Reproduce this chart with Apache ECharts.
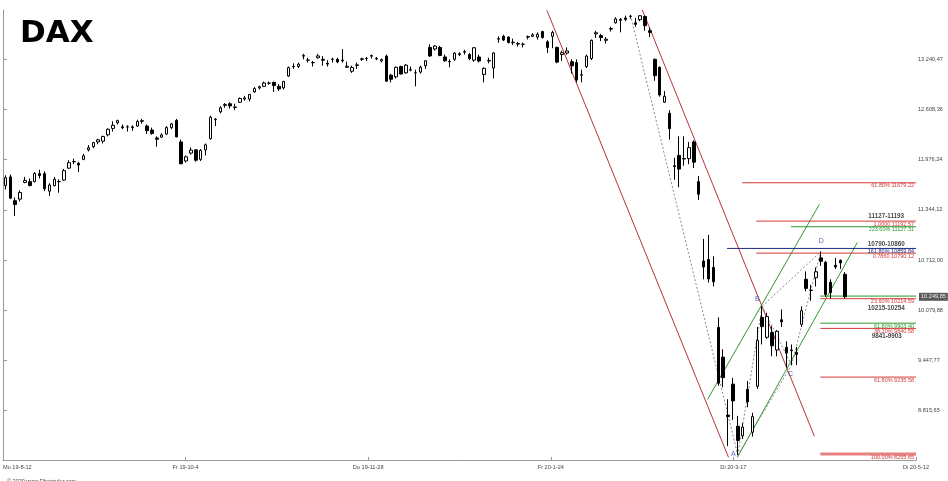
<!DOCTYPE html>
<html><head><meta charset="utf-8">
<script src="https://cdn.jsdelivr.net/npm/echarts@6/dist/echarts.min.js"></script>
<style>html,body{margin:0;padding:0;background:#fff}#c{width:948px;height:481px}</style>
</head><body><div id="c"></div>
<script>
// ---- data ----
const dates = [
'2019-08-13','2019-08-14','2019-08-15','2019-08-16','2019-08-19','2019-08-20','2019-08-21','2019-08-22','2019-08-23','2019-08-26','2019-08-27','2019-08-28','2019-08-29','2019-08-30',
'2019-09-02','2019-09-03','2019-09-04','2019-09-05','2019-09-06','2019-09-09','2019-09-10','2019-09-11','2019-09-12','2019-09-13','2019-09-16','2019-09-17','2019-09-18','2019-09-19','2019-09-20','2019-09-23','2019-09-24','2019-09-25','2019-09-26','2019-09-27','2019-09-30',
'2019-10-01','2019-10-02','2019-10-04','2019-10-07','2019-10-08','2019-10-09','2019-10-10','2019-10-11','2019-10-14','2019-10-15','2019-10-16','2019-10-17','2019-10-18','2019-10-21','2019-10-22','2019-10-23','2019-10-24','2019-10-25','2019-10-28','2019-10-29','2019-10-30','2019-10-31',
'2019-11-01','2019-11-04','2019-11-05','2019-11-06','2019-11-07','2019-11-08','2019-11-11','2019-11-12','2019-11-13','2019-11-14','2019-11-15','2019-11-18','2019-11-19','2019-11-20','2019-11-21','2019-11-22','2019-11-25','2019-11-26','2019-11-27','2019-11-28','2019-11-29',
'2019-12-02','2019-12-03','2019-12-04','2019-12-05','2019-12-06','2019-12-09','2019-12-10','2019-12-11','2019-12-12','2019-12-13','2019-12-16','2019-12-17','2019-12-18','2019-12-19','2019-12-20','2019-12-23','2019-12-27','2019-12-30',
'2020-01-02','2020-01-03','2020-01-06','2020-01-07','2020-01-08','2020-01-09','2020-01-10','2020-01-13','2020-01-14','2020-01-15','2020-01-16','2020-01-17','2020-01-20','2020-01-21','2020-01-22','2020-01-23','2020-01-24','2020-01-27','2020-01-28','2020-01-29','2020-01-30','2020-01-31',
'2020-02-03','2020-02-04','2020-02-05','2020-02-06','2020-02-07','2020-02-10','2020-02-11','2020-02-12','2020-02-13','2020-02-14','2020-02-17','2020-02-18','2020-02-19','2020-02-20','2020-02-21','2020-02-24','2020-02-25','2020-02-26','2020-02-27','2020-02-28',
'2020-03-02','2020-03-03','2020-03-04','2020-03-05','2020-03-06','2020-03-09','2020-03-10','2020-03-11','2020-03-12','2020-03-13','2020-03-16','2020-03-17','2020-03-18','2020-03-19','2020-03-20','2020-03-23','2020-03-24','2020-03-25','2020-03-26','2020-03-27','2020-03-30','2020-03-31',
'2020-04-01','2020-04-02','2020-04-03','2020-04-06','2020-04-07','2020-04-08','2020-04-09','2020-04-14','2020-04-15','2020-04-16','2020-04-17','2020-04-20','2020-04-21'];
const futureDates = ['2020-04-22','2020-04-23','2020-04-24','2020-04-27','2020-04-28','2020-04-29','2020-04-30','2020-05-01','2020-05-04','2020-05-05','2020-05-06','2020-05-07','2020-05-08','2020-05-11'];

const open = [11650,11760,11460,11480,11690,11700,11700,11800,11800,11580,11650,11700,11720,11870,
11950,11930,11980,12100,12140,12200,12210,12290,12370,12440,12390,12390,12380,12400,12460,12400,12350,12250,12260,12300,12380,
12470,12200,11960,12060,12100,11980,12100,12240,12480,12580,12660,12680,12640,12700,12740,12740,12830,12880,12900,12940,12950,12900,
12880,13030,13150,13150,13280,13230,13200,13260,13240,13190,13240,13240,13230,13140,13090,13170,13240,13250,13280,13250,13220,
13280,13040,13020,13150,13070,13110,13070,13080,13160,13390,13370,13390,13270,13210,13240,13310,13330,13300,
13230,13270,13050,13220,13130,13500,13530,13520,13450,13440,13430,13520,13530,13520,13590,13460,13530,13390,13300,13320,13210,13200,
13040,13150,13250,13560,13540,13480,13620,13700,13730,13760,13780,13700,13740,13780,13600,13240,13140,12700,12560,11900,
12030,11990,11990,12200,11700,10700,10720,10620,9865,9490,8760,9150,8620,8500,9085,8545,9123,9990,9740,9800,9580,9960,
9614,9580,9550,9903,10470,10330,10490,10740,10684,10432,10646,10709,10533];
const high = [11780,11790,11500,11590,11760,11740,11820,11850,11830,11680,11760,11730,11860,11970,
11990,11950,12050,12160,12200,12240,12280,12370,12460,12480,12420,12410,12410,12480,12490,12420,12380,12270,12310,12400,12440,
12490,12230,12030,12130,12110,12110,12180,12530,12500,12650,12690,12700,12680,12760,12780,12800,12890,12910,12960,12960,12960,12930,
12970,13150,13190,13200,13310,13260,13220,13310,13280,13230,13260,13260,13370,13210,13160,13200,13260,13270,13300,13270,13250,
13300,13060,13150,13160,13180,13150,13110,13160,13230,13430,13420,13410,13300,13240,13330,13330,13360,13320,
13390,13300,13140,13260,13330,13530,13550,13530,13500,13460,13450,13540,13570,13580,13600,13480,13600,13400,13350,13390,13240,13240,
13110,13300,13490,13600,13560,13520,13650,13770,13760,13790,13800,13760,13795,13790,13640,13250,13150,12840,12600,12000,
12270,12270,12200,12220,11770,10980,11030,10760,9991,9588,8960,9230,8750,8660,9190,8790,9870,10130,10050,9880,9830,10090,
9690,9650,9620,10130,10570,10400,10620,10820,10700,10470,10740,10720,10560];
const low = [11600,11480,11266,11450,11680,11640,11690,11740,11580,11520,11640,11560,11710,11860,
11920,11820,11970,12080,12120,12170,12180,12270,12330,12420,12360,12330,12340,12390,12430,12300,12290,12140,12250,12290,12360,
12260,11920,11940,12040,11950,11960,12030,12230,12400,12560,12630,12620,12600,12690,12720,12710,12820,12860,12890,12920,12830,12840,
12860,13020,13120,13130,13240,13200,13150,13250,13160,13150,13200,13190,13200,13130,13070,13120,13220,13220,13250,13230,13200,
12960,12950,13000,13050,13060,13090,12900,13060,13120,13270,13350,13280,13210,13140,13220,13280,13300,13230,
13210,13200,12950,13190,13000,13450,13470,13440,13420,13400,13390,13490,13520,13490,13500,13320,13380,13190,13220,13300,13060,12950,
12950,13130,13230,13510,13470,13440,13590,13690,13580,13720,13750,13650,13720,13600,13520,12970,12770,12690,12230,11724,
11630,11900,11920,11870,11470,10470,10430,10380,9130,9110,8370,8700,8256,8460,8860,8490,9090,9650,9720,9500,9500,9870,
9360,9390,9390,9870,10320,10200,10380,10640,10250,10230,10600,10600,10230];
const close = [11750,11492,11412,11563,11715,11651,11802,11777,11612,11658,11731,11701,11838,11939,
11953,11910,12025,12126,12192,12227,12268,12360,12410,12469,12380,12389,12390,12457,12468,12342,12307,12234,12288,12381,12428,
12263,11925,12013,12097,11970,12094,12164,12511,12486,12630,12670,12654,12634,12748,12754,12798,12872,12895,12942,12940,12910,12867,
12961,13136,13148,13179,13289,13228,13198,13283,13230,13180,13242,13208,13221,13153,13138,13164,13247,13252,13288,13245,13236,
12965,12989,13140,13055,13167,13105,13071,13142,13222,13283,13408,13288,13222,13212,13319,13300,13337,13249,
13386,13219,13127,13227,13321,13495,13483,13452,13456,13432,13430,13526,13549,13556,13515,13389,13577,13205,13324,13346,13158,12982,
13046,13282,13479,13575,13514,13494,13628,13749,13745,13744,13783,13681,13789,13665,13579,13035,12791,12775,12367,11890,
11858,11986,12128,11945,11542,10625,10475,10439,9161,9232,8742,8939,8442,8610,8929,8741,9701,9874,10000,9633,9816,9936,
9544,9571,9525,10075,10356,10333,10565,10697,10280,10302,10626,10676,10249.85];

const xTickLabels = ['Mo 19-8-12','Fr 19-10-4','Do 19-11-28','Fr 20-1-24','Di 20-3-17','Di 20-5-12'];
const yTickValues = [8815.65, 9447.77, 10079.88, 10712.00, 11344.12, 11976.24, 12608.36, 13240.47];
const lastPrice = 10249.85;

// drawings in (bar position, price); bar i sits at position i+0.5
const redChannelLeft  = [[111.4, 13856], [148.6, 8228]];
const redChannelRight = [[130.9, 13869], [166.2, 8492]];
const greenChannelLow = [[150.4, 8228], [175.0, 10935]];
const greenChannelUp  = [[144.3, 8958], [167.2, 11413]];
const patX = [128.5, 13800], patA = [150.5, 8256], patB = [155.5, 10130], patC = [161.5, 9390], patD = [167.5, 10820];
const patternLegs = [[patX, patA], [patA, patB], [patB, patC], [patC, patD], [patA, patC], [patB, patD]];
const patternNames = ['A', 'B', 'C', 'D'];
const patternLabelPos = [[149.6, 8266], [154.5, 10218], [161.3, 9275], [167.6, 10946]];

const fibStart = [151.4, 154.3, 161.4, 148.3, 154.3, 167.4, 167.4, 167.4, 167.4, 167.4, 167.4];
const fibPrice = [11686, 11203, 11132, 10859, 10800, 10259, 10226, 9918, 9852, 9239, 8269];
const fibColor = ['red', 'red', 'green', 'navy', 'red', 'green', 'red', 'green', 'red', 'red', 'pink'];
const fibText  = ['61.80% 11679.22', '1.0000 11192.57', '223.60% 11127.31', '161.80% 10859.84', '0.7860 10790.12',
                  '', '23.60% 10214.59', '61.80% 9903.40', '38.20% 9840.58', '61.80% 9235.58', '100.00% 8255.65'];
const zoneText  = ['11127-11193', '10790-10860', '10215-10254', '9841-9903'];
const zonePos   = [[180.9, 11262], [180.9, 10906], [180.9, 10104], [181.0, 9747]];

// ---- chart ----
const N = dates.length + futureDates.length; // 187 slots
const yMin = 8194.9, yMax = 13861.3;
const colors = {red: '#d43a3a', green: '#2e9a2e', navy: '#1c2a80', pink: '#e88080', chan: '#b8323a', grid: '#9a9a9a'};
const textColors = {red: '#d43a3a', green: '#2e9a2e', navy: '#1c2a80', pink: '#c83030'};
const fmtDE = v => { const p = Number(v).toFixed(2).split('.'); return p[0].replace(/\B(?=(\d{3})+(?!\d))/g, '.') + ',' + p[1]; };
const font = 'Liberation Sans, Arial, sans-serif';

const chart = echarts.init(document.getElementById('c'), null, {renderer: 'canvas'});
const lineSeries = (data, color, extra) => Object.assign({
  type: 'line', xAxisIndex: 1, yAxisIndex: 0, data: data, symbol: 'none', silent: true, clip: true,
  lineStyle: {color: color, width: 1}, z: 3, animation: false
}, extra || {});

const fibSeries = fibPrice.map((p, i) => {
  const key = fibColor[i];
  const isPink = key === 'pink';
  return {
    type: 'line', xAxisIndex: 1, yAxisIndex: 0, silent: true, clip: false, animation: false, z: 4,
    symbol: 'circle', symbolSize: 0.01, showSymbol: true,
    itemStyle: {color: 'rgba(0,0,0,0)', borderWidth: 0},
    lineStyle: {color: colors[key], width: isPink ? 3 : 1, opacity: 1},
    data: [
      {value: [fibStart[i], p], label: {show: false}},
      {value: [N, p], label: {show: fibText[i] !== '', formatter: fibText[i], position: 'left', distance: 2, offset: [0, 3],
        color: textColors[key], fontSize: 5.5, fontFamily: font}}
    ]
  };
});

const option = {
  animation: false,
  backgroundColor: '#ffffff',
  title: [
    {text: 'DAX', left: 15, top: 13, textStyle: {fontFamily: 'DejaVu Sans', fontWeight: 'bold', fontSize: 31, color: '#000'}},
    {text: '© 2020 www.Fibotrader.com', left: 2, top: 473, textStyle: {fontFamily: font, fontWeight: 'normal', fontSize: 5.5, color: '#444'}}
  ],
  grid: {left: 1, right: 32, top: 10, bottom: 21, containLabel: false},
  xAxis: [
    {type: 'category', data: dates.concat(futureDates), boundaryGap: true, show: false},
    {type: 'value', min: 0, max: N, interval: N / 5, position: 'bottom',
     axisLine: {show: true, lineStyle: {color: colors.grid, width: 1}},
     axisTick: {show: true, inside: true, length: 3, lineStyle: {color: colors.grid}},
     splitLine: {show: false},
     axisLabel: {show: true, fontSize: 5.6, color: '#444', fontFamily: font, margin: 4, alignMinLabel: 'left',
                 formatter: v => xTickLabels[Math.round(v / (N / 5))] || ''}}
  ],
  yAxis: [{
    type: 'value', position: 'right', min: yMin, max: yMax,
    splitLine: {show: false},
    axisLine: {show: true, lineStyle: {color: colors.grid, width: 1}},
    axisTick: {show: true, length: 4, customValues: yTickValues, lineStyle: {color: colors.grid}},
    axisLabel: {show: true, customValues: yTickValues, formatter: v => fmtDE(v), fontSize: 5.6, color: '#444', fontFamily: font, margin: 2}
  }],
  series: [
    {
      type: 'candlestick', xAxisIndex: 0, yAxisIndex: 0, silent: true, barWidth: 3, z: 5,
      data: dates.map((d, i) => [open[i], close[i], low[i], high[i]]),
      itemStyle: {color: '#ffffff', color0: '#000000', borderColor: '#000000', borderColor0: '#000000', borderWidth: 1},
      markLine: {
        silent: true, symbol: 'none', animation: false,
        data: [{yAxis: lastPrice}],
        lineStyle: {color: 'rgba(0,0,0,0)', width: 0},
        label: {show: true, position: 'end', distance: 3, formatter: fmtDE(lastPrice), fontSize: 5.6, fontFamily: font,
                color: '#eeeeee', backgroundColor: '#5a5a5a', padding: [1, 2, 1, 2], opacity: 1}
      }
    },
    lineSeries(redChannelLeft, colors.chan),
    lineSeries(redChannelRight, colors.chan),
    lineSeries(greenChannelLow, colors.green),
    lineSeries(greenChannelUp, colors.green)
  ].concat(fibSeries)
   .concat(patternLegs.map(leg => lineSeries(leg, '#8a8a8a', {lineStyle: {color: '#8a8a8a', width: 1, type: [2, 2]}, z: 2})))
   .concat([
    {type: 'scatter', xAxisIndex: 1, yAxisIndex: 0, silent: true, symbolSize: 0, z: 6,
     data: patternLabelPos.map((p, i) => ({value: p, name: patternNames[i]})),
     label: {show: true, position: 'inside', formatter: '{b}', color: '#2b3f9e', fontSize: 7, fontFamily: font}},
    {type: 'scatter', xAxisIndex: 1, yAxisIndex: 0, silent: true, symbolSize: 0, z: 6,
     data: zonePos.map((p, i) => ({value: p, name: zoneText[i]})),
     label: {show: true, position: 'inside', formatter: '{b}', color: '#111', fontSize: 6.3, fontWeight: 'bold', fontFamily: font}}
  ])
};
chart.setOption(option);
</script>
</body></html>
